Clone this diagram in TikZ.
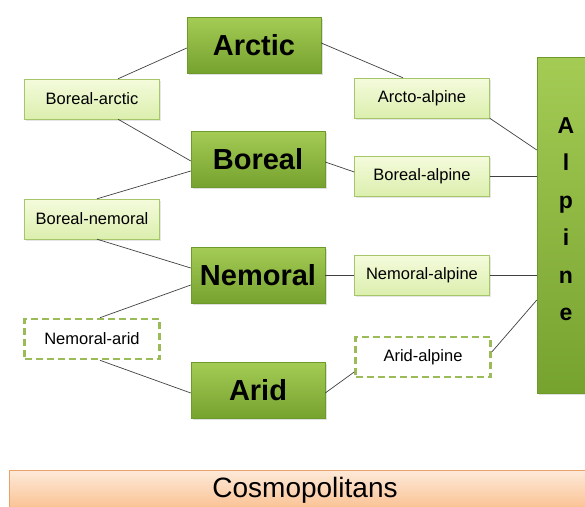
\documentclass[tikz,border=0pt]{standalone}
\usepackage{fontspec}
\setmainfont{Liberation Sans}
\usetikzlibrary{shadows}

\definecolor{zonetop}{HTML}{A4CC55}
\definecolor{zonebot}{HTML}{76A22E}
\definecolor{zoneedge}{HTML}{6E9A2C}
\definecolor{linktop}{HTML}{F4FBDC}
\definecolor{linkbot}{HTML}{DCEFAE}
\definecolor{linkedge}{HTML}{A6C66A}
\definecolor{dashedge}{HTML}{9BBB59}
\definecolor{cosmotop}{HTML}{FDEADA}
\definecolor{cosmobot}{HTML}{FAC090}
\definecolor{cosmoedge}{HTML}{E9A36A}

\begin{document}
\begin{tikzpicture}[x=1pt, y=-1pt,
    zone/.style={
        draw=zoneedge,
        top color=zonetop,
        bottom color=zonebot,
        minimum width=134pt,
        minimum height=56pt,
        font=\fontsize{29}{32}\selectfont\bfseries,
        drop shadow={opacity=0.25, shadow xshift=2pt, shadow yshift=-2pt}
    },
    link/.style={
        draw=linkedge,
        top color=linktop,
        bottom color=linkbot,
        minimum width=135pt,
        minimum height=40pt,
        font=\fontsize{16.5}{19}\selectfont,
        drop shadow={opacity=0.2, shadow xshift=1.5pt, shadow yshift=-1.5pt}
    },
    weak/.style={
        draw=dashedge,
        fill=white,
        line width=2.6pt,
        dash pattern=on 7pt off 4pt,
        minimum width=135pt,
        minimum height=40pt,
        font=\fontsize{16.5}{19}\selectfont
    },
    wire/.style={draw=black!75, line width=0.7pt}
]
    \useasboundingbox (0,0) rectangle (585,506);
    \clip (0,0) rectangle (585,506);

    % the four zones
    \node[zone] (arctic)  at (254,45)  {Arctic};
    \node[zone] (boreal)  at (258,159) {Boreal};
    \node[zone] (nemoral) at (258,275) {Nemoral};
    \node[zone] (arid)    at (258,390) {Arid};

    % left column
    \node[link] (borarc) at (92,99)  {Boreal-arctic};
    \node[link] (bornem) at (92,219) {Boreal-nemoral};
    \node[weak] (nemarid) at (92,339) {Nemoral-arid};

    % right column
    \node[link] (arcalp) at (422,98)  {Arcto-alpine};
    \node[link] (boralp) at (422,176) {Boreal-alpine};
    \node[link] (nemalp) at (422,275) {Nemoral-alpine};
    \node[weak] (aridalp) at (423,357) {Arid-alpine};

    \node[zone, minimum width=58pt, minimum height=336pt] (alpine) at (566,225) {};
    \node[align=center, font=\fontsize{23}{37.5}\selectfont\bfseries] (alpinetxt) at (566,219)
        {A\\l\\p\\i\\n\\e};

    \node[draw=cosmoedge, top color=cosmotop, bottom color=cosmobot,
          minimum width=592pt, minimum height=40pt,
          font=\fontsize{28}{32}\selectfont] (cosmo) at (305,490) {Cosmopolitans};

    \draw[wire] (arctic.west) ++(0,3) -- ([xshift=26pt]borarc.north);
    \draw[wire] ([xshift=26pt]borarc.south) -- ([yshift=-2pt]boreal.west);
    \draw[wire] ([yshift=-12pt]boreal.west) -- ([xshift=5pt]bornem.north);
    \draw[wire] ([xshift=5pt]bornem.south) -- ([yshift=7pt]nemoral.west);
    \draw[wire] ([yshift=-10pt]nemoral.west) -- ([xshift=8pt]nemarid.north);
    \draw[wire] ([xshift=8pt]nemarid.south) -- ([yshift=-3pt]arid.west);

    \draw[wire] ([yshift=2pt]arctic.east) -- ([xshift=-19pt]arcalp.north);
    \draw[wire] ([yshift=-3pt]boreal.east) -- ([yshift=4pt]boralp.west);
    \draw[wire] (nemoral.east) -- (nemalp.west);
    \draw[wire] ([yshift=-3pt]arid.east) -- ([yshift=-15pt]aridalp.west);

    \draw[wire] (arcalp.south east) -- ([yshift=75pt]alpine.west);
    \draw[wire] (boralp.east) -- (alpine.west |- boralp.east);
    \draw[wire] (nemalp.east) -- (alpine.west |- nemalp.east);
    \draw[wire] ([yshift=5pt]aridalp.east) -- ([yshift=-75pt]alpine.west);
\end{tikzpicture}
\end{document}
